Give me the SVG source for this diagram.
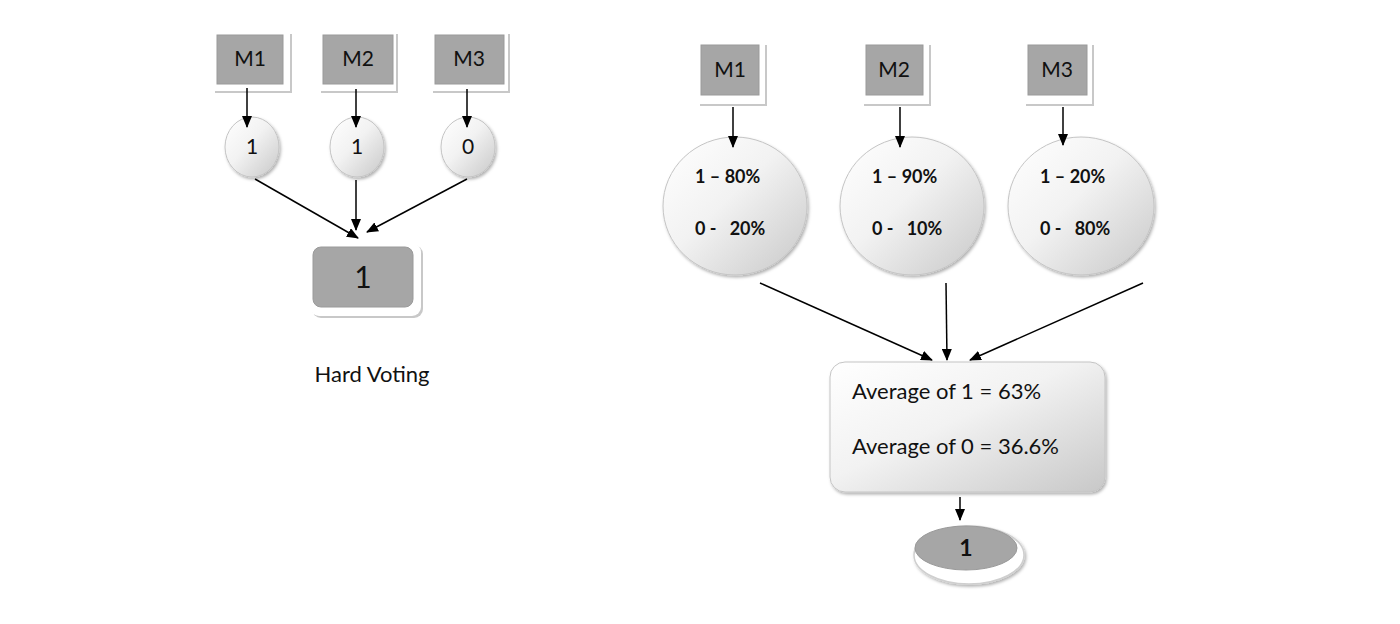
<svg xmlns="http://www.w3.org/2000/svg" width="1400" height="624" viewBox="0 0 1400 624">
<style>
.t{font-family:Lato,"Open Sans","Liberation Sans",sans-serif;fill:#111}
.box{fill:#a6a6a6;stroke:#9a9a9a;stroke-width:1}
.card{fill:#fff}
.cardsh{fill:#c8c8c8}
.bub{fill:url(#bg);stroke:#c4c4c4;stroke-width:1}
.con line{stroke:#000;stroke-width:1.5;marker-end:url(#ah)}
.m{font-size:21px;text-anchor:middle}
.p{font-size:18px;font-weight:bold}
.a{font-size:22px}
</style>
<defs>
<marker id="ah" markerWidth="12" markerHeight="10" refX="11" refY="5" orient="auto" markerUnits="userSpaceOnUse">
<path d="M0,0 L12,5 L0,10 z" fill="#000"/>
</marker>
<linearGradient id="bg" x1="0" y1="0" x2="1" y2="1">
<stop offset="0" stop-color="#ffffff"/>
<stop offset="0.45" stop-color="#f2f2f2"/>
<stop offset="1" stop-color="#c8c8c8"/>
</linearGradient>
<filter id="sh" x="-20%" y="-20%" width="140%" height="140%">
<feDropShadow dx="1.5" dy="2" stdDeviation="1.5" flood-color="#000" flood-opacity="0.3"/>
</filter>
</defs>
<rect width="1400" height="624" fill="#fff"/>

<!-- Left: hard voting -->
<g id="hM1"><rect class="cardsh" x="215" y="34" width="77" height="59"/><rect class="card" x="213" y="32" width="77" height="59"/><rect class="box" x="217" y="35" width="66" height="49"/><text class="t m" x="250" y="66">M1</text></g>
<g id="hM2"><rect class="cardsh" x="321" y="34" width="77" height="59"/><rect class="card" x="319" y="32" width="77" height="59"/><rect class="box" x="323" y="35" width="70" height="49"/><text class="t m" x="358" y="66">M2</text></g>
<g id="hM3"><rect class="cardsh" x="433" y="34" width="77" height="59"/><rect class="card" x="431" y="32" width="77" height="59"/><rect class="box" x="435" y="35" width="69" height="49"/><text class="t m" x="469" y="66">M3</text></g>

<g id="hC1"><ellipse class="bub" cx="252" cy="147" rx="27" ry="30" filter="url(#sh)"/><text class="t m" x="252" y="154">1</text></g>
<g id="hC2"><ellipse class="bub" cx="357" cy="147" rx="27" ry="30" filter="url(#sh)"/><text class="t m" x="357" y="154">1</text></g>
<g id="hC3"><ellipse class="bub" cx="468" cy="147" rx="27" ry="30" filter="url(#sh)"/><text class="t m" x="468" y="154">0</text></g>

<g id="hOut"><rect class="cardsh" x="312" y="245" width="111" height="73" rx="9"/><rect class="card" x="310" y="243" width="111" height="73" rx="9"/><rect class="box" x="313" y="247" width="100" height="60" rx="8"/><text class="t" x="363" y="288" font-size="30" text-anchor="middle">1</text></g>

<g id="hLabel"><text class="t" x="372" y="382" font-size="22" text-anchor="middle">Hard Voting</text></g>

<!-- Right: soft voting -->
<g id="sM1"><rect class="cardsh" x="700" y="45" width="67" height="61"/><rect class="card" x="698" y="43" width="67" height="61"/><rect class="box" x="701" y="45" width="58" height="50"/><text class="t m" x="730" y="77">M1</text></g>
<g id="sM2"><rect class="cardsh" x="864" y="45" width="67" height="61"/><rect class="card" x="862" y="43" width="67" height="61"/><rect class="box" x="866" y="45" width="57" height="50"/><text class="t m" x="894" y="77">M2</text></g>
<g id="sM3"><rect class="cardsh" x="1026" y="45" width="68" height="61"/><rect class="card" x="1024" y="43" width="68" height="61"/><rect class="box" x="1028" y="45" width="59" height="50"/><text class="t m" x="1057" y="77">M3</text></g>

<g id="sE1"><ellipse class="bub" cx="735" cy="206" rx="72" ry="69" filter="url(#sh)"/><text class="t p" x="695" y="183">1 – 80%</text><text class="t p" x="695" y="235" xml:space="preserve">0 -   20%</text></g>
<g id="sE2"><ellipse class="bub" cx="912" cy="206" rx="72" ry="69" filter="url(#sh)"/><text class="t p" x="872" y="183">1 – 90%</text><text class="t p" x="872" y="235" xml:space="preserve">0 -   10%</text></g>
<g id="sE3"><ellipse class="bub" cx="1081" cy="206" rx="73" ry="69" filter="url(#sh)"/><text class="t p" x="1040" y="183">1 – 20%</text><text class="t p" x="1040" y="235" xml:space="preserve">0 -   80%</text></g>

<g id="sAvg"><rect class="bub" x="830" y="362" width="275" height="130" rx="15" filter="url(#sh)"/><text class="t a" x="852" y="399">Average of 1 = 63%</text><text class="t a" x="852" y="454">Average of 0 = 36.6%</text></g>

<g id="sOut"><ellipse fill="#fff" stroke="#cfcfcf" stroke-width="1.5" cx="969" cy="555" rx="55" ry="29" filter="url(#sh)"/><ellipse class="box" cx="966" cy="548" rx="51" ry="22"/><text class="t" x="966" y="556" font-size="23" font-weight="bold" text-anchor="middle">1</text></g>

<g id="connectors" class="con">
<line x1="247" y1="88" x2="247" y2="127"/>
<line x1="356" y1="89" x2="356" y2="127"/>
<line x1="467" y1="89" x2="467" y2="127"/>
<line x1="255" y1="179" x2="358" y2="238"/>
<line x1="356" y1="180" x2="356" y2="230"/>
<line x1="467" y1="179" x2="367" y2="232"/>
<line x1="733" y1="107" x2="733" y2="147"/>
<line x1="900" y1="107" x2="900" y2="147"/>
<line x1="1063" y1="107" x2="1063" y2="145"/>
<line x1="760" y1="283" x2="932" y2="360"/>
<line x1="946" y1="283" x2="947" y2="360"/>
<line x1="1143" y1="283" x2="970" y2="360"/>
<line x1="960" y1="497" x2="960" y2="520"/>
</g>
</svg>
